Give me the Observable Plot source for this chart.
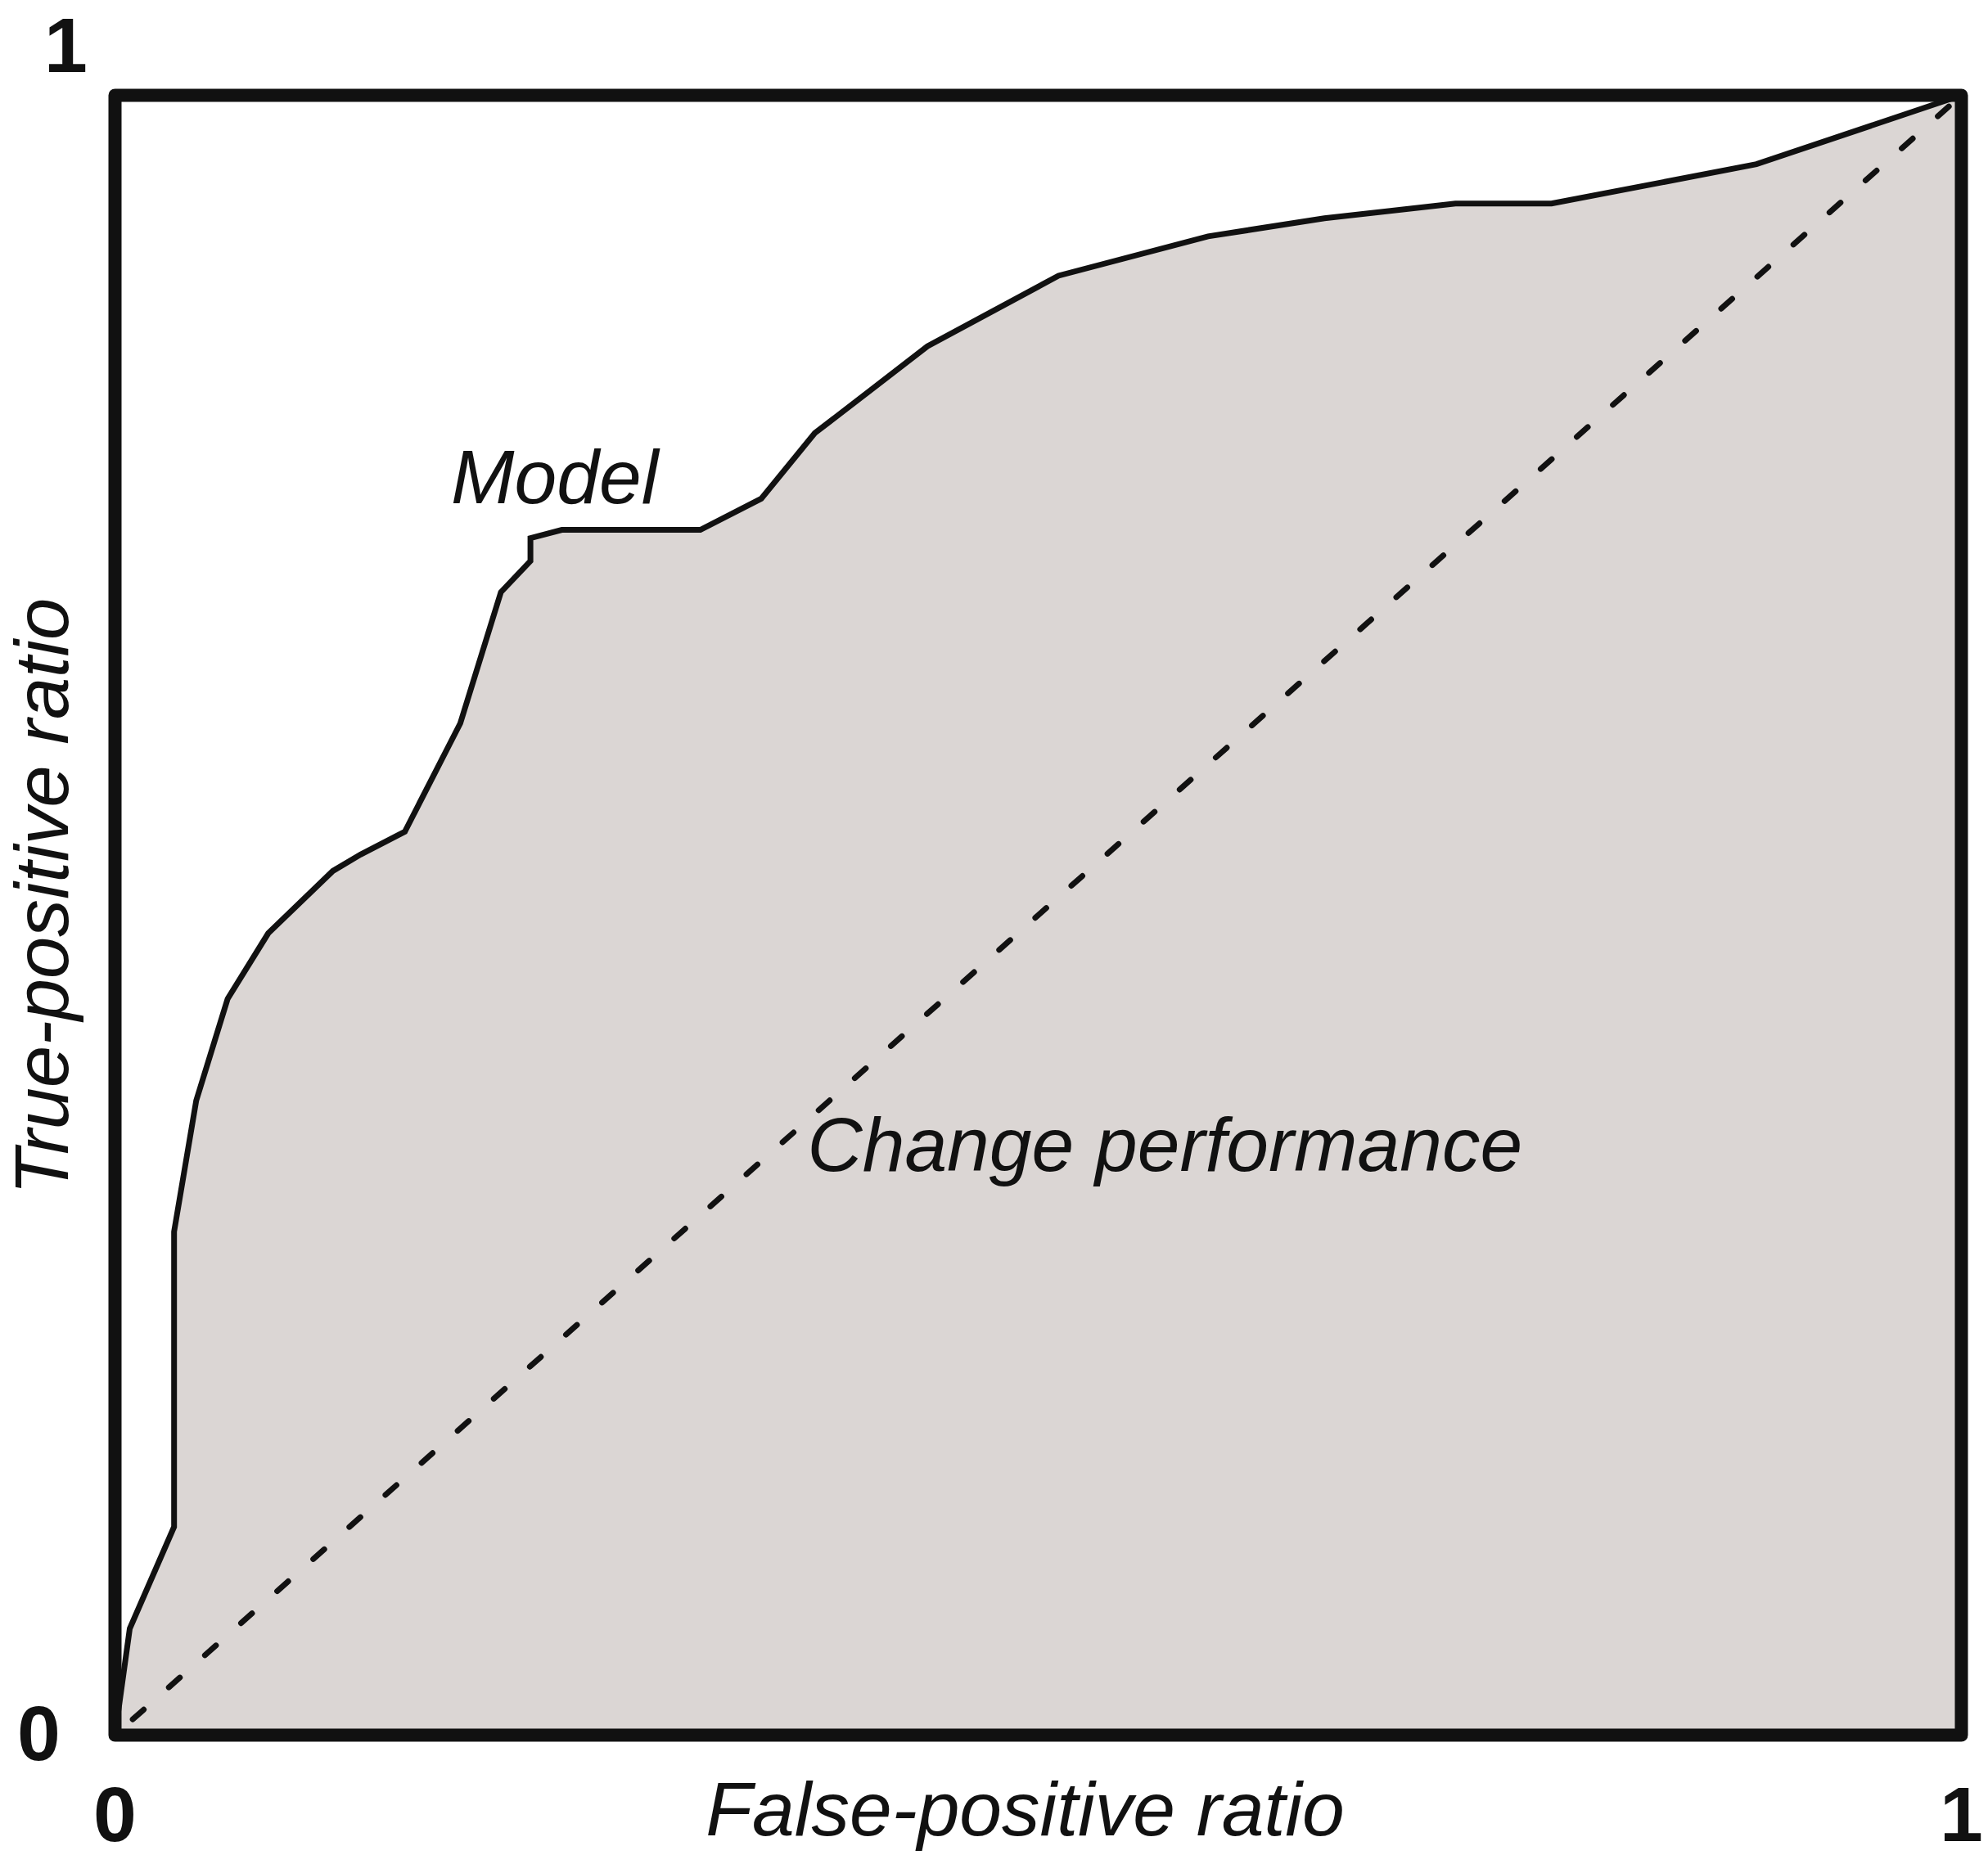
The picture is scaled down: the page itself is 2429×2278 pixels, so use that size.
<!DOCTYPE html>
<html><head><meta charset="utf-8">
<script src="https://cdn.jsdelivr.net/npm/d3@7"></script>
<script src="https://cdn.jsdelivr.net/npm/@observablehq/plot@0.6"></script>
<style>html,body{margin:0;padding:0;background:#fff}</style>
</head><body><div id="chart"></div>
<script>
// ROC curve
const fpr = [0, 0.008, 0.032, 0.032, 0.044, 0.061, 0.083, 0.118, 0.133, 0.157, 0.187, 0.209, 0.225, 0.225, 0.242, 0.317, 0.350, 0.379, 0.409, 0.440, 0.511, 0.592, 0.655, 0.726, 0.778, 0.889, 1];
const tpr = [0, 0.065, 0.127, 0.307, 0.387, 0.449, 0.489, 0.527, 0.537, 0.551, 0.617, 0.697, 0.716, 0.730, 0.735, 0.735, 0.754, 0.794, 0.820, 0.847, 0.890, 0.914, 0.925, 0.934, 0.934, 0.958, 1];
// chance diagonal
const chanceFpr = [0, 1];
const chanceTpr = [0, 1];
// tick labels
const xTickValues = [0, 1];
const xTickLabels = ["0", "1"];
const yTickValues = [0, 1];
const yTickLabels = ["0", "1"];
// annotation texts and their anchor values
const annotationText = ["Model", "Change performance"];
const annotationFpr = [0.182, 0.375];
const annotationTpr = [0.751, 0.344];
const xTitle = "False-positive ratio";
const yTitle = "True-positive ratio";

const roc = fpr.map((x, i) => ({fpr: x, tpr: tpr[i]}));
const chance = chanceFpr.map((x, i) => ({fpr: x, tpr: chanceTpr[i]}));
const yTicks = yTickValues.map((v, i) => ({v, label: yTickLabels[i]}));
const notes = annotationText.map((t, i) => ({text: t, fpr: annotationFpr[i], tpr: annotationTpr[i]}));

const ink = "#111";
const chart = Plot.plot({
  width: 2429,
  height: 2278,
  marginLeft: 140,
  marginRight: 33,
  marginTop: 116,
  marginBottom: 158,
  x: {domain: [0, 1], axis: null},
  y: {domain: [0, 1], axis: null},
  style: {fontFamily: "'Liberation Sans', Arial, sans-serif", background: "#fff", overflow: "visible"},
  marks: [
    Plot.area(roc, {x1: "fpr", y1: () => 0, y2: "tpr", fill: "#dbd6d4"}),
    Plot.line(chance, {x: "fpr", y: "tpr", stroke: ink, strokeWidth: 7, strokeDasharray: "18,41", strokeDashoffset: 30, strokeLinecap: "round"}),
    Plot.line(roc, {x: "fpr", y: "tpr", stroke: ink, strokeWidth: 7, strokeLinejoin: "miter", strokeMiterlimit: 3}),
    Plot.frame({stroke: ink, strokeWidth: 16, strokeLinejoin: "round"}),
    Plot.axisX(xTickValues, {tickSize: 0, tickPadding: 62, tickFormat: (d, i) => xTickLabels[i], fontSize: 95, fontWeight: "bold", fill: ink, label: null}),
    Plot.text(yTicks.filter(d => d.v === 0), {x: 0, y: "v", text: "label", dx: -93, dy: 0, textAnchor: "middle", lineAnchor: "middle", fontSize: 95, fontWeight: "bold", fill: ink}),
    Plot.text(yTicks.filter(d => d.v === 1), {x: 0, y: "v", text: "label", dx: -60, dy: -59, textAnchor: "middle", lineAnchor: "middle", fontSize: 95, fontWeight: "bold", fill: ink}),
    Plot.text(notes, {x: "fpr", y: "tpr", text: "text", textAnchor: "start", lineAnchor: "bottom", fontSize: 93, fontStyle: "italic", fill: ink}),
    Plot.text([xTitle], {frameAnchor: "bottom", text: d => d, dx: -16, dy: 122, textAnchor: "middle", lineAnchor: "bottom", fontSize: 93, fontStyle: "italic", fill: ink}),
    Plot.text([yTitle], {frameAnchor: "left", text: d => d, rotate: -90, dx: -58, dy: -23, textAnchor: "middle", lineAnchor: "bottom", fontSize: 92, fontStyle: "italic", fill: ink})
  ]
});
document.getElementById("chart").appendChild(chart);
</script>
</body></html>
